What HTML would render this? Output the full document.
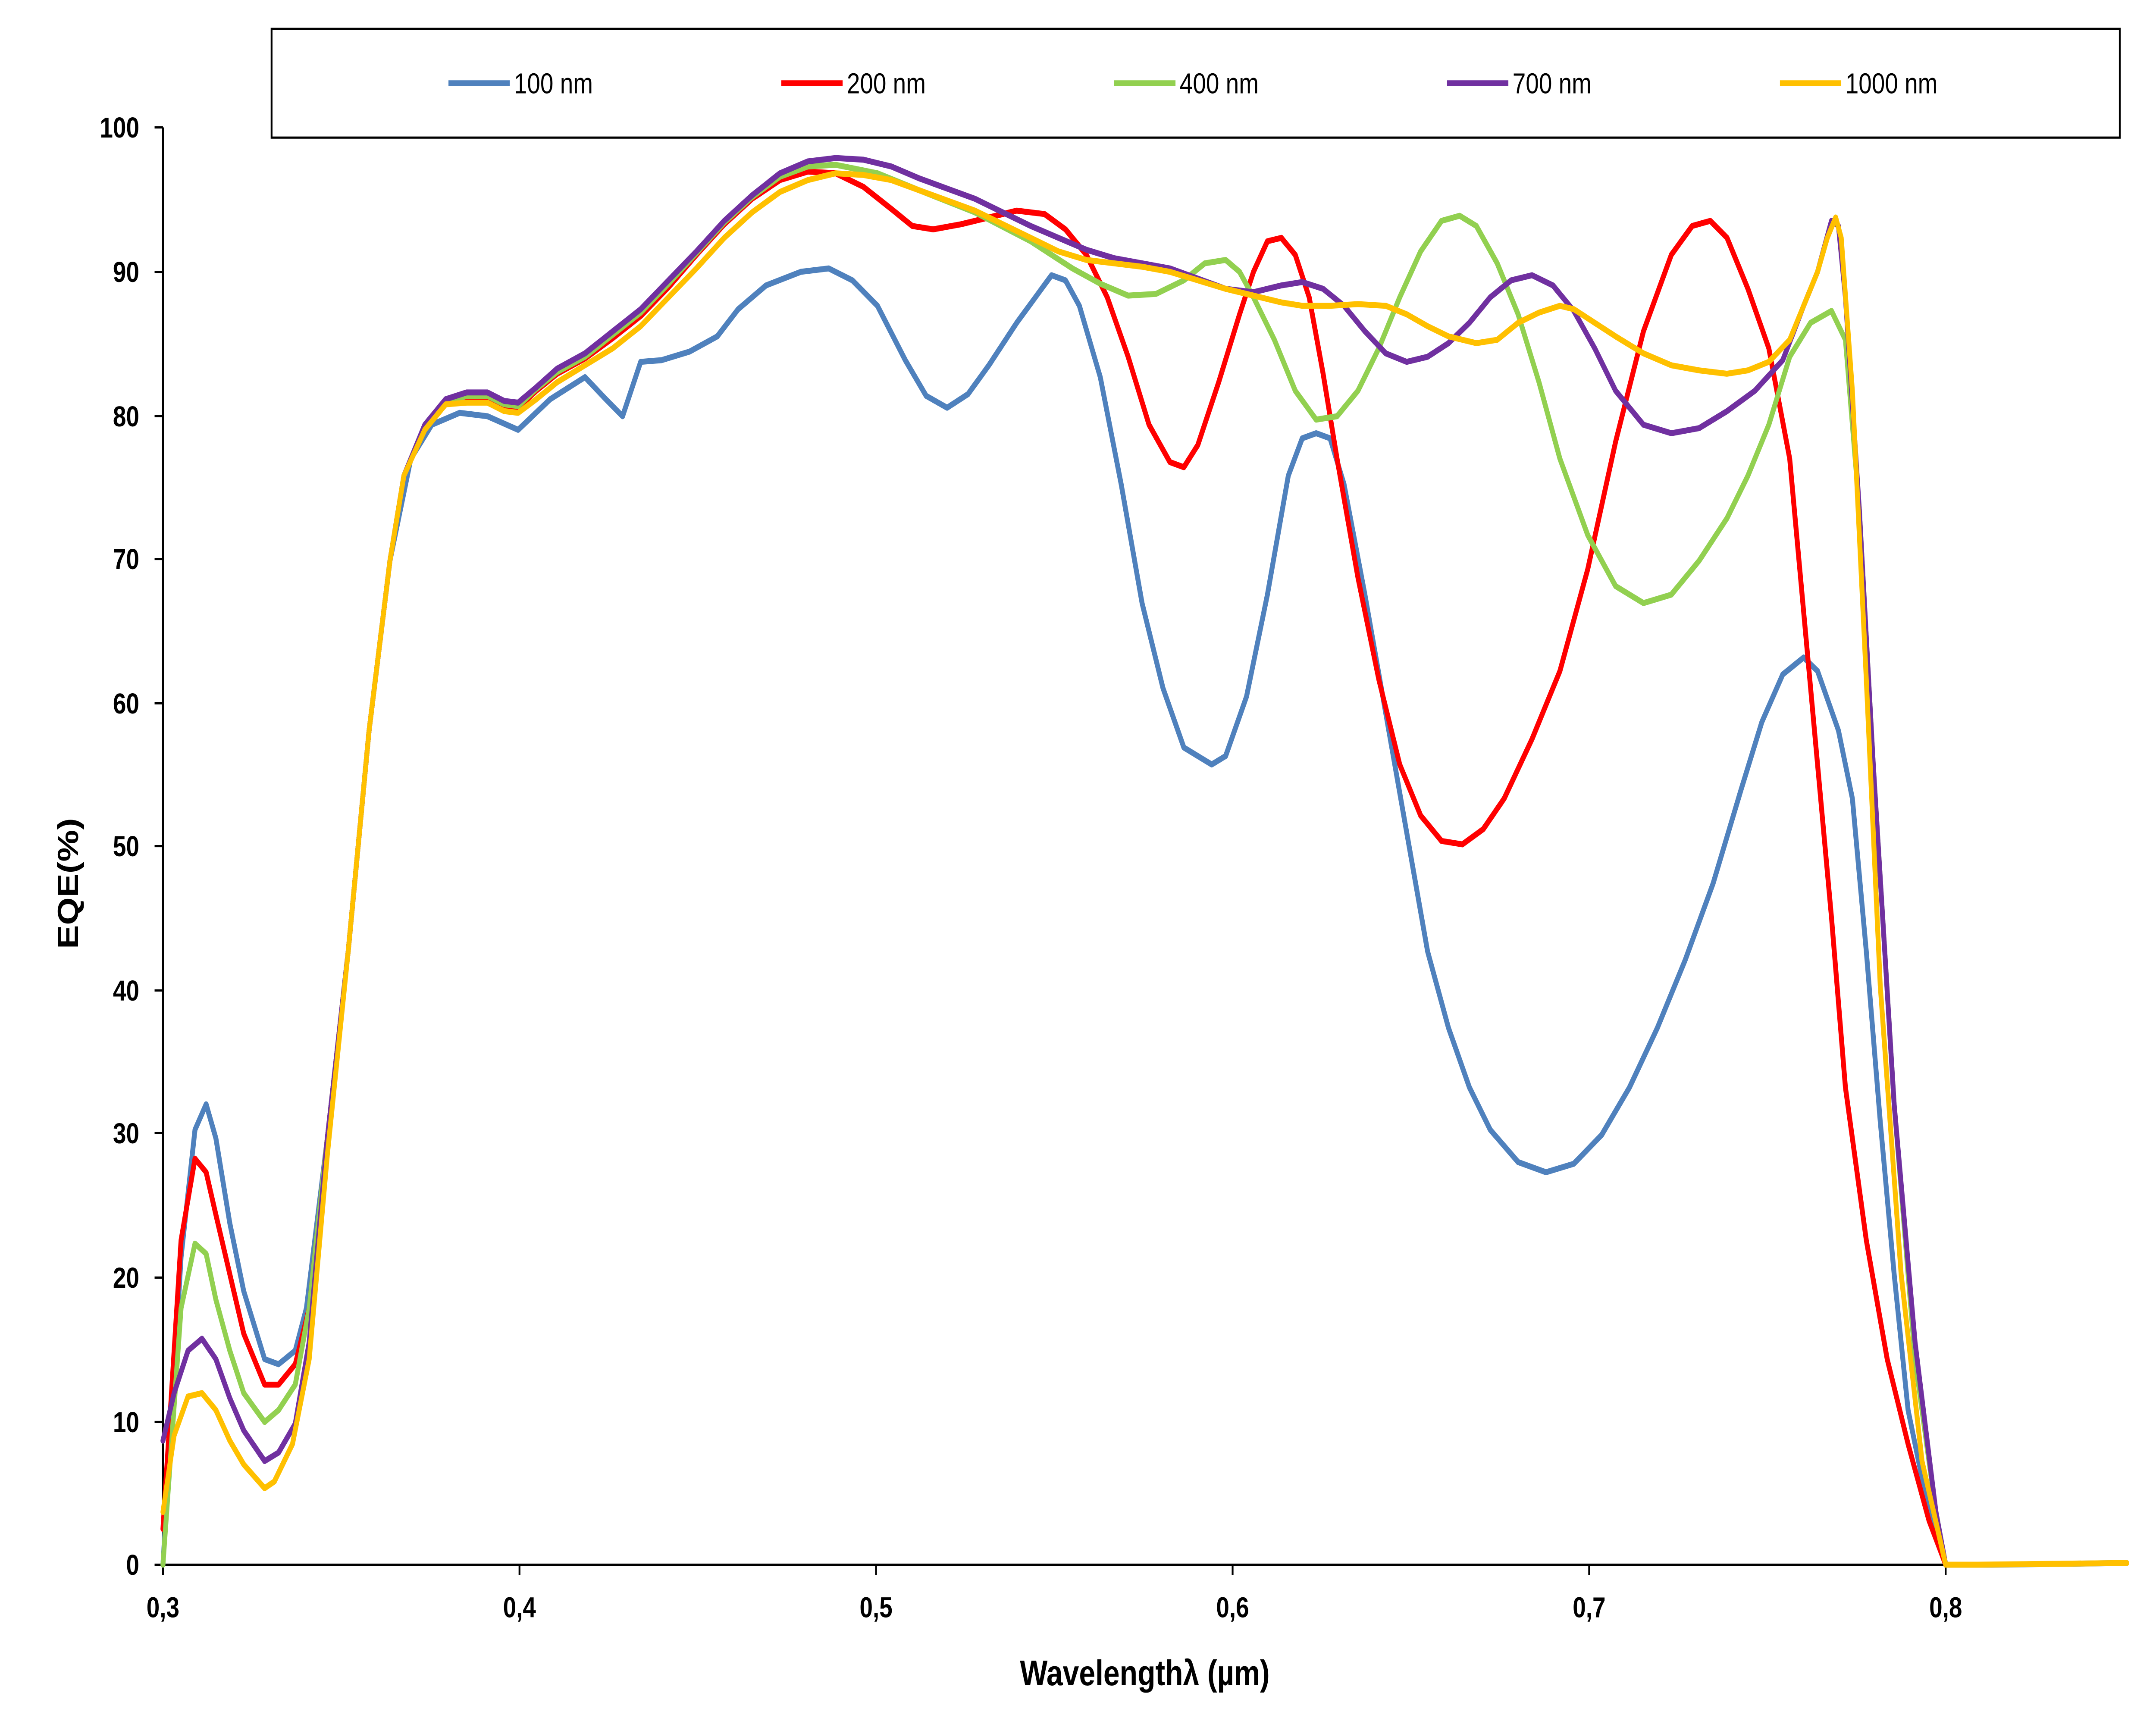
<!DOCTYPE html>
<html><head><meta charset="utf-8"><style>
html,body{margin:0;padding:0;background:#fff;width:100%;height:100%;overflow:hidden;}
svg{display:block;width:100vw;height:100vh;}
text{font-family:"Liberation Sans",sans-serif;}
</style></head><body>
<svg viewBox="0 0 1548 1013" preserveAspectRatio="none" xmlns="http://www.w3.org/2000/svg">
<rect x="0" y="0" width="1548" height="1013" fill="#fff"/>
<rect x="195" y="17" width="1327" height="64" fill="#fff" stroke="#000" stroke-width="1.3"/>
<g stroke-width="3.5">
<line x1="322" y1="49" x2="366" y2="49" stroke="#4f81bd"/>
<line x1="561" y1="49" x2="605" y2="49" stroke="#ff0000"/>
<line x1="800" y1="49" x2="844" y2="49" stroke="#92d050"/>
<line x1="1039" y1="49" x2="1083" y2="49" stroke="#7030a0"/>
<line x1="1278" y1="49" x2="1322" y2="49" stroke="#ffc000"/>
</g>
<g font-size="17" fill="#000">
<text x="369" y="55">100 nm</text>
<text x="608" y="55">200 nm</text>
<text x="847" y="55">400 nm</text>
<text x="1086" y="55">700 nm</text>
<text x="1325" y="55">1000 nm</text>
</g>
<g stroke="#000" stroke-width="1.3">
<line x1="117" y1="75" x2="117" y2="921"/>
<line x1="117" y1="921" x2="1527" y2="921"/>
<line x1="111" y1="75" x2="117" y2="75"/><line x1="111" y1="160" x2="117" y2="160"/>
<line x1="111" y1="245" x2="117" y2="245"/><line x1="111" y1="329" x2="117" y2="329"/>
<line x1="111" y1="414" x2="117" y2="414"/><line x1="111" y1="498" x2="117" y2="498"/>
<line x1="111" y1="583" x2="117" y2="583"/><line x1="111" y1="667" x2="117" y2="667"/>
<line x1="111" y1="752" x2="117" y2="752"/><line x1="111" y1="837" x2="117" y2="837"/>
<line x1="111" y1="921" x2="117" y2="921"/>
<line x1="117" y1="921" x2="117" y2="927"/><line x1="373" y1="921" x2="373" y2="927"/>
<line x1="629" y1="921" x2="629" y2="927"/><line x1="885" y1="921" x2="885" y2="927"/>
<line x1="1141" y1="921" x2="1141" y2="927"/><line x1="1397" y1="921" x2="1397" y2="927"/>
</g>
<g font-size="17" font-weight="bold" text-anchor="end">
<text x="100" y="81">100</text><text x="100" y="166">90</text><text x="100" y="251">80</text>
<text x="100" y="335">70</text><text x="100" y="420">60</text><text x="100" y="504">50</text>
<text x="100" y="589">40</text><text x="100" y="673">30</text><text x="100" y="758">20</text>
<text x="100" y="843">10</text><text x="100" y="927">0</text>
</g>
<g font-size="17" font-weight="bold" text-anchor="middle">
<text x="117" y="952">0,3</text><text x="373" y="952">0,4</text><text x="629" y="952">0,5</text>
<text x="885" y="952">0,6</text><text x="1141" y="952">0,7</text><text x="1397" y="952">0,8</text>
</g>
<text x="822" y="992" font-size="21" font-weight="bold" text-anchor="middle">Wavelengthλ (µm)</text>
<text x="56" y="520" font-size="21" font-weight="bold" text-anchor="middle" transform="rotate(-90 56 520)">EQE(%)</text>
<g fill="none" stroke-width="3.5" stroke-linejoin="round" stroke-linecap="round">
<polyline stroke="#4f81bd" points="117,921 130,740 140,665 148,650 155,670 165,720 175,760 190,800 200,803 212,795 220,770 235,670 250,560 265,430 280,330 295,270 310,250 330,243 350,245 372,253 395,235 420,222 435,235 447,245 460,213 475,212 495,207 515,198 530,182 550,168 575,160 595,158 612,165 630,180 650,212 665,233 680,240 695,232 710,215 730,190 755,162 765,165 775,180 790,222 805,285 820,355 835,405 850,440 870,450 880,445 895,410 910,350 925,280 935,258 945,255 955,258 965,285 980,350 995,420 1010,490 1025,560 1040,605 1055,640 1070,665 1090,684 1110,690 1130,685 1150,668 1170,640 1190,605 1210,565 1230,520 1250,465 1265,425 1280,397 1295,387 1305,395 1320,430 1330,470 1340,560 1350,660 1360,750 1370,830 1380,870 1390,900 1397,921 1430,921 1527,920"/>
<polyline stroke="#ff0000" points="117,900 130,730 140,682 148,690 155,715 165,750 175,785 190,815 200,815 212,803 222,770 235,670 250,560 265,430 280,330 290,280 305,252 320,238 335,234 350,235 362,240 372,240 385,230 400,220 420,211 440,199 460,186 480,169 500,150 520,132 540,117 560,106 580,101 600,102 620,110 640,123 655,133 670,135 690,132 710,128 730,124 750,126 765,135 780,150 795,175 810,210 825,250 840,272 850,275 860,262 875,225 890,185 900,160 910,142 920,140 930,150 940,175 950,220 960,270 975,340 990,400 1005,450 1020,480 1035,495 1050,497 1065,488 1080,470 1100,435 1120,395 1140,335 1160,260 1180,195 1200,150 1215,133 1228,130 1240,140 1255,170 1270,205 1285,270 1295,360 1305,450 1315,540 1325,640 1340,730 1355,800 1370,850 1385,895 1397,921"/>
<polyline stroke="#92d050" points="117,921 130,770 140,732 148,738 155,765 165,795 175,820 190,837 200,830 212,815 222,770 235,670 250,560 265,430 280,330 290,280 305,252 320,237 335,233 350,233 362,238 372,239 385,229 400,219 420,210 440,197 460,184 480,167 500,149 520,131 540,116 560,104 580,98 600,97 630,102 660,112 700,125 740,142 770,158 790,167 810,174 830,173 850,165 865,155 880,153 890,160 900,175 915,200 930,230 945,247 960,245 975,230 990,205 1005,175 1020,148 1035,130 1048,127 1060,133 1075,155 1090,185 1105,225 1120,270 1140,315 1160,345 1180,355 1200,350 1220,330 1240,305 1255,280 1270,250 1285,210 1300,190 1315,183 1325,200 1335,300 1345,450 1360,650 1375,800 1390,890 1397,921"/>
<polyline stroke="#7030a0" points="117,848 125,820 135,795 145,788 155,800 165,823 175,842 190,860 200,855 212,838 222,790 235,670 250,560 265,430 280,330 290,280 305,250 320,235 335,231 350,231 362,236 372,237 385,228 400,217 420,208 440,195 460,182 480,165 500,148 520,130 540,115 560,102 580,95 600,93 620,94 640,98 660,105 680,111 700,117 720,125 740,133 760,140 780,147 800,152 820,155 840,158 860,164 880,170 900,172 920,168 935,166 950,170 965,180 980,195 995,208 1010,213 1025,210 1040,202 1055,190 1070,175 1085,165 1100,162 1115,168 1130,183 1145,205 1160,230 1180,250 1200,255 1220,252 1240,242 1260,230 1280,212 1295,180 1305,160 1315,130 1320,133 1325,175 1335,300 1345,450 1360,650 1375,790 1390,890 1397,921"/>
<polyline stroke="#ffc000" points="117,890 125,845 135,822 145,820 155,830 165,848 175,862 190,876 197,872 210,850 222,800 235,680 250,560 265,430 280,330 290,280 305,253 320,238 335,237 350,237 362,242 372,243 385,235 400,225 420,215 440,205 460,192 480,175 500,158 520,140 540,125 560,113 580,106 600,102 620,103 640,106 660,112 680,118 700,124 720,132 740,140 760,148 780,153 800,155 820,157 840,160 860,165 880,170 900,174 920,178 935,180 955,180 975,179 995,180 1010,185 1025,192 1040,198 1060,202 1075,200 1090,190 1105,184 1120,180 1130,182 1145,190 1160,198 1180,208 1200,215 1220,218 1240,220 1255,218 1270,213 1285,200 1295,180 1305,160 1312,140 1318,128 1322,140 1330,230 1340,400 1350,580 1365,750 1380,860 1397,921 1420,921 1527,920"/>
</g>
</svg>
</body></html>
